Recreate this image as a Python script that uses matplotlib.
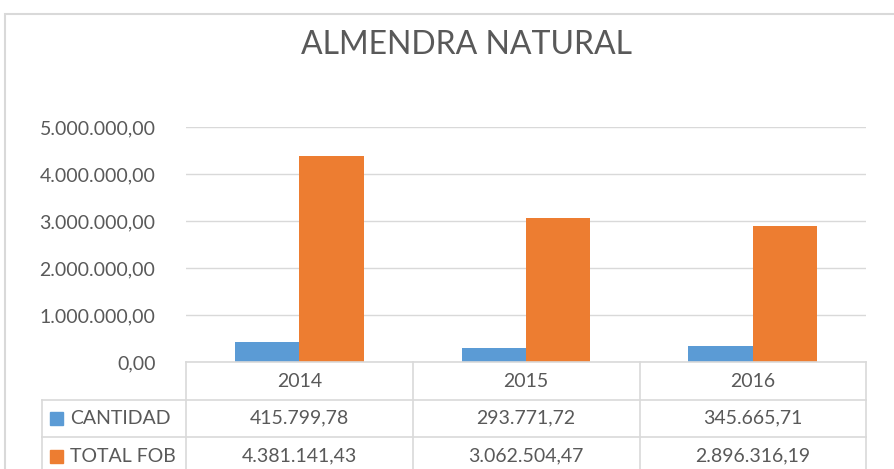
import matplotlib.pyplot as plt
from matplotlib.patches import Rectangle
from matplotlib.ticker import FuncFormatter
import numpy as np

years = ["2014", "2015", "2016"]
cantidad = [415799.78, 293771.72, 345665.71]
total_fob = [4381141.43, 3062504.47, 2896316.19]
series_names = ["CANTIDAD", "TOTAL FOB"]
yticks = [0, 1000000, 2000000, 3000000, 4000000, 5000000]

blue = "#5B9BD5"
orange = "#ED7D31"
txt = "#595959"
grid = "#D9D9D9"

plt.rcParams['font.family'] = ['Lato', 'DejaVu Sans']


def es_fmt(v, pos=None):
    s = f"{v:,.2f}"
    return s.replace(",", "X").replace(".", ",").replace("X", ".")


W, H = 895, 469
fig = plt.figure(figsize=(W / 100, H / 100), dpi=100)

# plot area in pixels
left, right, top, bottom = 186, 866, 127, 362
ax = fig.add_axes([left / W, 1 - bottom / H, (right - left) / W, (bottom - top) / H])

x = np.arange(len(years))
w = 0.284
ax.bar(x - w / 2, cantidad, w, color=blue, zorder=2)
ax.bar(x + w / 2, total_fob, w, color=orange, zorder=2)

ax.set_xlim(-0.5, len(years) - 0.5)
ax.set_ylim(0, 5000000)
ax.set_yticks(yticks)
ax.yaxis.set_major_formatter(FuncFormatter(es_fmt))
ax.tick_params(axis='y', length=0, pad=22, labelsize=14, labelcolor=txt)
ax.set_xticks([])
ax.grid(axis='y', color=grid, lw=1, zorder=0)
for s in ax.spines.values():
    s.set_visible(False)

# data table below the plot area
def axx(px):
    return (px - left) / (right - left)

def axy(py):
    return (bottom - py) / (bottom - top)

row_edges = [362, 400, 437, 475]
col_edges = [186, 413, 640, 866]
lk = dict(color=grid, lw=1.2, transform=ax.transAxes, clip_on=False)
ax.plot([axx(186), axx(866)], [axy(362), axy(362)], **lk)
for ry in row_edges[1:]:
    ax.plot([axx(42), axx(866)], [axy(ry), axy(ry)], **lk)
for cx in col_edges:
    ax.plot([axx(cx), axx(cx)], [axy(362), axy(480)], **lk)
ax.plot([axx(42), axx(42)], [axy(400), axy(480)], **lk)

for i, yr in enumerate(years):
    ax.text(i, axy(381), yr, ha='center', va='center', fontsize=14, color=txt,
            transform=ax.get_xaxis_transform(), clip_on=False)
    ax.text(i, axy(418), es_fmt(cantidad[i]), ha='center', va='center', fontsize=14,
            color=txt, transform=ax.get_xaxis_transform(), clip_on=False)
    ax.text(i, axy(456), es_fmt(total_fob[i]), ha='center', va='center', fontsize=14,
            color=txt, transform=ax.get_xaxis_transform(), clip_on=False)

for name, col, cy in zip(series_names, [blue, orange], [418, 456]):
    ax.add_patch(Rectangle((axx(50), axy(cy + 6.5)), axx(63) - axx(50), axy(cy - 6.5) - axy(cy + 6.5),
                           color=col, transform=ax.transAxes, clip_on=False))
    ax.text(axx(70), axy(cy), name, ha='left', va='center', fontsize=14, color=txt,
            transform=ax.transAxes, clip_on=False)

fig.text(467 / W, 1 - 45 / H, "ALMENDRA NATURAL", ha='center', va='center',
         fontsize=23, color=txt)

# chart border
fig.patches.append(Rectangle((5 / W, -0.5), 2, 1.5 - 14 / H, fill=False, edgecolor=grid,
                             lw=1.5, transform=fig.transFigure))

fig.savefig("out.png", dpi=100, facecolor='white')
